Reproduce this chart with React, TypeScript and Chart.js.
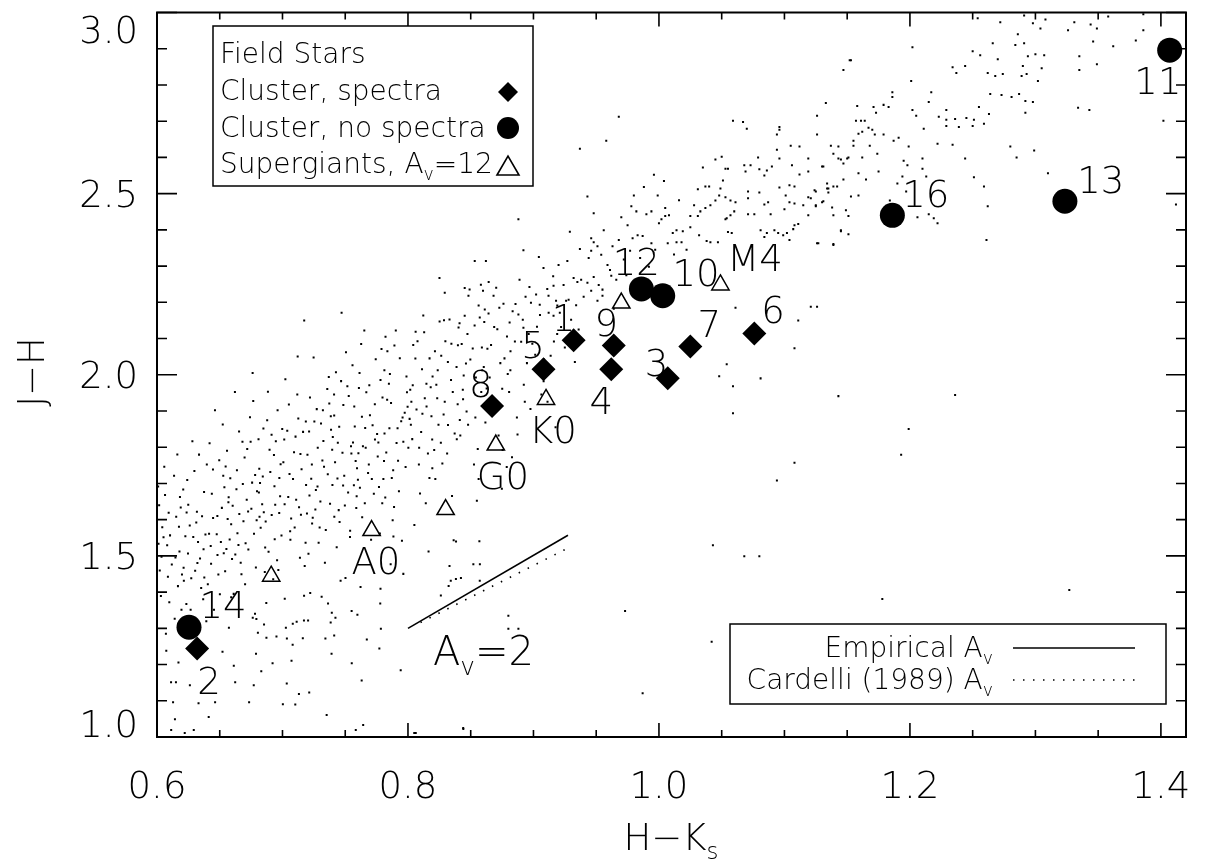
import React, { useEffect, useRef } from 'react';
import { Chart, registerables } from 'chart.js';

Chart.register(...registerables);

// ---------------- data ----------------
const clusterSpectraIds = ['1', '2', '3', '4', '5', '6', '7', '8', '9'];
const clusterSpectraHK = [0.932, 0.632, 1.007, 0.962, 0.908, 1.076, 1.025, 0.867, 0.964];
const clusterSpectraJH = [2.095, 1.244, 1.990, 2.015, 2.015, 2.114, 2.078, 1.914, 2.081];

const clusterNoSpectraIds = ['10', '11', '12', '13', '14', '16'];
const clusterNoSpectraHK = [1.003, 1.407, 0.986, 1.3235, 0.6255, 1.186];
const clusterNoSpectraJH = [2.218, 2.896, 2.237, 2.479, 1.303, 2.440];

const supergiantHK = [0.691, 0.771, 0.830, 0.870, 0.910, 0.970, 1.049];
const supergiantJH = [1.444, 1.570, 1.628, 1.806, 1.932, 2.198, 2.248];

const empiricalAvHK = [0.800, 0.9275];
const empiricalAvJH = [1.300, 1.557];
const cardelliAvHK = [0.810, 0.926];
const cardelliAvJH = [1.316, 1.519];

// text labels placed in data coordinates (text centre)
const pointLabelText = ['14', '2', '8', '5', '1', '9', '4', '3', '7', '6', '12', '10', 'M4', 'K0', 'G0', 'A0', '16', '13', '11'];
const pointLabelHK = [0.6526, 0.6414, 0.858, 0.8996, 0.924, 0.958, 0.954, 0.998, 1.040, 1.091, 0.982, 1.0295, 1.0765, 0.9155, 0.8757, 0.7745, 1.2127, 1.352, 1.3976];
const pointLabelJH = [1.365, 1.156, 1.977, 2.084, 2.158, 2.144, 1.930, 2.034, 2.141, 2.180, 2.314, 2.281, 2.325, 1.848, 1.7215, 1.488, 2.5007, 2.539, 2.8135];
const avLabelHK = 0.8199;
const avLabelJH = 1.2387;

const xMajorTicks = [0.6, 0.8, 1.0, 1.2, 1.4];
const xMajorLabels = ['0.6', '0.8', '1.0', '1.2', '1.4'];
const xMinorTicks = [0.65, 0.7, 0.75, 0.85, 0.9, 0.95, 1.05, 1.1, 1.15, 1.25, 1.3, 1.35];
const yMajorTicks = [1.0, 1.5, 2.0, 2.5, 3.0];
const yMajorLabels = ['1.0', '1.5', '2.0', '2.5', '3.0'];
const yMinorTicks = [1.1, 1.2, 1.3, 1.4, 1.6, 1.7, 1.8, 1.9, 2.1, 2.2, 2.3, 2.4, 2.6, 2.7, 2.8, 2.9];

// field stars [H-Ks, J-H]
const fieldStars: [number, number][] = [
  [0.6012,1.5337],[0.6087,1.4421],[0.6153,1.6078],[0.6031,1.3895],[0.6179,1.5124],[0.6064,1.6683],[0.6118,1.4762],[0.6195,1.3512],[0.6042,1.5791],[0.6136,1.7215],[0.6071,1.2853],[0.6189,1.6337],[0.6022,1.4598],[0.6104,1.5566],[0.6167,1.4165],[0.6058,1.7462],[0.6141,1.3267],[0.6093,1.6192],[0.6009,1.6914],[0.6175,1.5803],[0.6128,1.0961],[0.6112,1.1509],[0.6151,1.1512],[0.6143,1.0487],[0.6113,1.0193],[0.6171,1.2059],[0.6074,1.2378],[0.6036,1.4973],[0.6162,1.7798],[0.6081,1.5294],[0.6199,1.4488],[0.6017,1.6395],
  [0.6221,1.0113],[0.6293,1.0192],[0.6331,1.0934],[0.6262,1.1431],[0.6247,1.5068],[0.6318,1.6217],[0.6273,1.4384],[0.6386,1.5592],[0.6209,1.6835],[0.6352,1.4113],[0.6298,1.7342],[0.6234,1.3671],[0.6375,1.6764],[0.6261,1.5837],[0.6343,1.4925],[0.6212,1.4671],[0.6397,1.7521],[0.6282,1.8163],[0.6327,1.5384],[0.6249,1.6412],[0.6368,1.3802],[0.6304,1.4587],[0.6226,1.5539],[0.6359,1.6092],[0.6286,1.2781],[0.6393,1.3196],[0.6241,1.7097],[0.6313,1.5919],[0.6377,1.4401],[0.6268,1.3512],[0.6335,1.7795],
  [0.6412,1.0551],[0.6463,1.0962],[0.6428,1.5274],[0.6517,1.6325],[0.6489,1.4488],[0.6446,1.7385],[0.6571,1.6619],[0.6532,1.5071],[0.6405,1.4217],[0.6558,1.7903],[0.6591,1.5872],[0.6524,1.8627],[0.6476,1.5594],[0.6543,1.4575],[0.6584,1.7143],[0.6437,1.6712],[0.6501,1.3938],[0.6563,1.6018],[0.6419,1.8108],[0.6598,1.4912],[0.6454,1.3512],[0.6522,1.2351],[0.6573,1.3017],[0.6481,1.6103],[0.6547,1.7468],[0.6462,1.9022],[0.6509,1.5383],[0.6591,1.3855],[0.6431,1.4782],[0.6537,1.6897],[0.6496,1.7641],[0.6579,1.5451],
  [0.6623,1.1509],[0.6612,1.1967],[0.6734,1.0961],[0.6771,1.1431],[0.6763,1.3291],[0.6792,1.3257],[0.6781,1.3402],[0.6789,1.2297],[0.6621,1.9524],[0.6762,2.0051],[0.6641,1.5623],[0.6715,1.6547],[0.6667,1.4812],[0.6782,1.7231],[0.6603,1.6384],[0.6746,1.8152],[0.6689,1.5954],[0.6728,1.5178],[0.6654,1.8436],[0.6797,1.6783],[0.6702,1.4215],[0.6637,1.7362],[0.6773,1.5612],[0.6684,1.6982],[0.6611,1.3951],[0.6752,1.6304],[0.6698,1.7714],[0.6624,1.5037],[0.6741,1.8825],[0.6673,1.4493],[0.6788,1.4681],[0.6656,1.6159],[0.6719,1.7947],[0.6767,1.9273],
  [0.6831,1.1812],[0.6872,1.2743],[0.6804,1.2881],[0.6853,1.3104],[0.6871,1.3702],[0.6952,1.2772],[0.6921,1.2033],[0.6817,1.6081],[0.6936,1.6923],[0.6862,1.5234],[0.6985,1.7528],[0.6809,1.8217],[0.6914,1.6128],[0.6957,1.4876],[0.6843,1.7191],[0.6992,1.5563],[0.6878,1.8742],[0.6926,1.4357],[0.6812,1.6752],[0.6961,1.9018],[0.6897,1.7927],[0.6838,1.6427],[0.6974,1.6185],[0.6889,1.5112],[0.6947,1.8164],[0.6826,1.5778],[0.6903,1.7316],[0.6981,1.6644],[0.6859,1.4553],[0.6938,1.5461],[0.6815,1.7403],[0.6967,1.4608],[0.6884,1.9531],[0.6932,1.7782],[0.6848,1.8514],
  [0.7034,1.1478],[0.7072,1.2106],[0.7003,1.0903],[0.7102,1.0898],[0.7131,1.1184],[0.7035,1.2721],[0.7081,1.2549],[0.7162,1.2723],[0.7171,1.3214],[0.7113,1.3182],[0.7082,1.3127],[0.7027,1.3018],[0.7018,1.3814],[0.7172,1.3897],[0.7121,2.0503],[0.7173,2.1498],[0.7046,1.6622],[0.7152,1.7389],[0.7097,1.5783],[0.7014,1.8215],[0.7188,1.6954],[0.7063,1.5446],[0.7126,1.8791],[0.7007,1.7587],[0.7195,1.6172],[0.7084,1.7124],[0.7139,1.4951],[0.7051,1.9182],[0.7177,1.4722],[0.7109,1.6548],[0.7023,1.9876],[0.7164,1.8423],[0.7092,1.7863],[0.7147,1.6134],[0.7038,1.8457],[0.7184,1.5361],[0.7069,1.6033],[0.7118,1.9458],[0.7199,1.7791],
  [0.7213,1.1228],[0.7352,1.0604],[0.7342,1.2718],[0.7391,1.2297],[0.7384,1.3162],[0.7393,1.3431],[0.7363,1.3682],[0.7312,1.3871],[0.7221,1.3978],[0.7204,1.3214],[0.7266,1.6817],[0.7318,1.7634],[0.7241,1.6052],[0.7387,1.8482],[0.7229,1.7128],[0.7345,1.5714],[0.7273,1.9051],[0.7396,1.7932],[0.7215,1.6664],[0.7331,1.7461],[0.7288,1.5362],[0.7357,1.9608],[0.7207,1.5061],[0.7379,1.6437],[0.7254,1.8712],[0.7326,1.8173],[0.7369,1.9937],[0.7236,1.5893],[0.7307,1.8655],[0.7281,1.7982],[0.7248,2.0474],[0.7398,1.6956],[0.7338,1.4813],[0.7262,1.6279],[0.7373,1.9205],[0.7219,1.9374],[0.7302,1.6503],
  [0.7412,1.2802],[0.7422,1.3291],[0.7551,1.3481],[0.7597,1.3372],[0.7463,1.4314],[0.7502,1.4392],[0.7552,1.2033],[0.7584,1.0193],[0.7471,2.1709],[0.7438,1.7134],[0.7546,1.8023],[0.7497,1.6392],[0.7412,1.8876],[0.7583,1.7617],[0.7455,1.5932],[0.7528,1.9415],[0.7401,1.8281],[0.7569,1.6952],[0.7478,1.7847],[0.7539,1.5693],[0.7426,2.0072],[0.7591,1.6647],[0.7485,1.9167],[0.7413,1.6078],[0.7562,1.8128],[0.7448,1.6263],[0.7517,1.9682],[0.7576,1.8572],[0.7432,1.5236],[0.7506,2.0618],[0.7594,1.7418],[0.7467,1.9824],[0.7538,1.5519],[0.7492,1.7209],[0.7558,2.0263],[0.7419,1.7585],
  [0.7622,1.4139],[0.7631,1.1561],[0.7643,1.0331],[0.7672,1.2692],[0.7772,1.2443],[0.7784,1.2987],[0.7781,1.4093],[0.7779,1.3684],[0.7652,2.1221],[0.7688,1.7524],[0.7754,1.8365],[0.7617,1.6882],[0.7736,1.9186],[0.7663,1.7982],[0.7795,1.6454],[0.7609,1.9631],[0.7718,1.8603],[0.7682,1.7285],[0.7764,1.8131],[0.7635,1.6063],[0.7743,2.0427],[0.7601,1.7104],[0.7797,1.9372],[0.7659,1.8527],[0.7728,1.6713],[0.7614,2.0048],[0.7776,1.5621],[0.7697,1.8881],[0.7627,2.0852],[0.7759,1.7746],[0.7706,1.5447],[0.7668,1.9517],[0.7789,2.0713],[0.7641,1.8026],
  [0.7942,1.1843],[0.7862,1.4772],[0.7884,1.5538],[0.7963,1.4503],[0.7903,2.1221],[0.7827,1.7856],[0.7946,1.8714],[0.7871,1.7152],[0.7992,1.9518],[0.7813,1.8376],[0.7928,1.6782],[0.7856,2.0023],[0.7974,1.8953],[0.7809,1.7618],[0.7917,1.8524],[0.7889,1.6347],[0.7836,2.0652],[0.7981,1.7453],[0.7848,1.9751],[0.7957,1.8821],[0.7804,1.7124],[0.7935,2.0457],[0.7878,1.5983],[0.7997,1.9116],[0.7821,2.1052],[0.7909,1.8117],[0.7865,1.9223],[0.7952,1.5419],[0.7892,2.0805],[0.7819,1.6612],
  [0.8062,1.0113],[0.8061,2.1189],[0.8122,2.1633],[0.8034,1.8223],[0.8148,1.9124],[0.8087,1.7521],[0.8196,1.9953],[0.8013,1.8782],[0.8171,1.7148],[0.8059,2.0451],[0.8134,1.9352],[0.8003,1.7983],[0.8187,1.8852],[0.8096,1.6724],[0.8042,2.0823],[0.8159,1.7826],[0.8112,2.0154],[0.8027,1.9255],[0.8194,1.7421],[0.8076,2.0924],[0.8142,1.6453],[0.8018,1.9583],[0.8105,1.8418],[0.8181,1.9652],[0.8051,1.5852],[0.8164,1.5124],[0.8129,2.1172],[0.8068,1.9041],
  [0.8251,2.2673],[0.8293,2.2261],[0.8252,2.1472],[0.8287,2.1503],[0.8331,2.1522],[0.8441,1.0221],[0.8341,1.4312],[0.8382,1.4363],[0.8324,1.4171],[0.8331,1.4723],[0.8262,1.3903],[0.8364,1.5433],[0.8383,1.5398],[0.8243,1.8621],[0.8357,1.9524],[0.8209,1.7921],[0.8318,2.0352],[0.8396,1.9183],[0.8274,1.7553],[0.8346,2.0854],[0.8226,1.9721],[0.8372,1.8381],[0.8293,1.9253],[0.8218,1.7121],[0.8389,1.8222],[0.8265,2.0523],[0.8312,1.7823],[0.8237,2.0124],[0.8398,2.0815],[0.8351,1.6653],[0.8284,1.8902],
  [0.8422,1.4392],[0.8521,1.4772],[0.8573,1.4771],[0.8572,1.4314],[0.8569,1.5402],[0.8482,2.2183],[0.8491,2.2351],[0.8452,2.2397],[0.8563,2.1911],[0.8572,2.1583],[0.8531,2.1361],[0.8452,2.1632],[0.8403,2.1302],[0.8532,2.3143],[0.8598,2.2322],[0.8581,2.2483],[0.8467,1.8983],[0.8541,1.9921],[0.8417,1.8322],[0.8589,2.0753],[0.8437,1.9583],[0.8556,1.7952],[0.8474,2.1122],[0.8592,2.0121],[0.8413,1.8754],[0.8526,1.7523],[0.8479,1.8622],[0.8428,2.0852],[0.8563,1.7124],[0.8497,2.0421],[0.8549,1.6523],[0.8444,1.9982],
  [0.8612,2.1803],[0.8642,2.1691],[0.8621,2.3143],[0.8643,2.2563],[0.8682,2.2183],[0.8703,2.2402],[0.8761,2.1962],[0.8674,1.9352],[0.8736,2.0321],[0.8617,1.8682],[0.8789,2.1053],[0.8651,1.9921],[0.8722,1.8322],[0.8608,2.1453],[0.8769,2.0452],[0.8695,1.9053],[0.8754,1.7922],[0.8633,2.0721],[0.8712,2.1253],[0.8787,1.7452],[0.8662,2.0823],[0.8748,1.6852],[0.8627,1.9623],[0.8795,2.0021],
  [0.881,2.144],[0.888,2.166],[0.892,2.130],[0.898,2.199],[0.892,2.344],[0.888,2.429],[0.8923,1.9721],[0.8817,2.0652],[0.8976,1.9053],[0.8852,2.0921],[0.8948,2.0321],[0.8834,2.1752],[0.8991,2.0853],[0.8873,1.8352],[0.8962,2.1123],[0.8806,1.9523],[0.8915,2.1521],[0.8868,1.8822],[0.8937,2.2153],[0.8829,1.7723],[0.8889,2.2622],
  [0.905,2.193],[0.908,2.295],[0.911,2.237],[0.916,2.246],[0.912,2.218],[0.918,2.204],[0.919,2.191],[0.916,2.163],[0.920,2.303],[0.9163,2.0921],[0.9028,2.1323],[0.9137,2.0524],[0.9052,2.1652],[0.9189,2.1123],[0.9081,1.9823],[0.9014,2.0553],[0.9112,1.9252],[0.9176,1.8553],[0.9043,2.3252],
  [0.921,2.171],[0.924,2.248],[0.926,2.204],[0.928,2.207],[0.927,2.314],[0.932,2.267],[0.938,2.262],[0.935,2.256],[0.937,2.347],[0.937,2.624],[0.922,2.132],[0.930,2.152],[0.934,2.192],[0.925,2.075],[0.936,2.125],[0.940,2.215],[0.929,2.395],[0.933,2.035],
  [0.943,2.492],[0.948,2.446],[0.946,2.377],[0.948,2.366],[0.951,2.355],[0.946,2.342],[0.944,2.322],[0.954,2.331],[0.959,2.303],[0.943,2.254],[0.948,2.270],[0.952,2.248],[0.955,2.235],[0.946,2.232],[0.955,2.218],[0.951,2.204],[0.956,2.399],[0.958,2.646],
  [0.961,2.289],[0.962,2.273],[0.968,2.372],[0.963,2.355],[0.968,2.712],[0.975,2.413],[0.979,2.377],[0.980,2.495],[0.966,2.262],[0.972,2.318],[0.977,2.342],[0.970,2.435],[0.964,2.182],[0.974,2.275],[0.978,2.465],
  [0.982,2.451],[0.983,2.385],[0.987,2.383],[0.990,2.443],[0.994,2.451],[0.994,2.363],[0.999,2.495],[1.000,2.418],[0.985,2.322],[0.992,2.298],[0.997,2.345],[0.988,2.518],[0.996,2.552],
  [1.002,2.429],[1.005,2.438],[1.008,2.440],[1.005,2.460],[1.011,2.391],[1.014,2.399],[1.019,2.396],[1.007,2.363],[1.014,2.366],[1.018,2.366],[1.012,2.332],[1.016,2.482],[1.004,2.535],
  [1.025,2.407],[1.025,2.438],[1.031,2.438],[1.028,2.468],[1.033,2.451],[1.037,2.460],[1.031,2.512],[1.037,2.520],[1.040,2.520],[1.032,2.385],[1.038,2.369],[1.022,2.345],[1.035,2.572],
  [1.041,2.366],[1.047,2.366],[1.041,2.468],[1.045,2.481],[1.048,2.495],[1.049,2.514],[1.051,2.536],[1.053,2.569],[1.055,2.569],[1.045,2.594],[1.050,2.602],[1.053,2.490],[1.057,2.481],[1.053,2.429],[1.054,2.432],[1.057,2.440],[1.055,2.394],[1.058,2.391],[1.059,2.701],[1.060,2.451],[1.048,1.996],[1.054,2.029],[1.059,1.968],[1.059,1.894],[1.043,1.529],
  [1.061,2.476],[1.067,2.698],[1.070,2.679],[1.068,2.578],[1.069,2.561],[1.073,2.578],[1.079,2.600],[1.080,2.567],[1.071,2.506],[1.071,2.487],[1.080,2.503],[1.071,2.443],[1.076,2.443],[1.061,2.185],[1.068,1.499],[1.080,1.499],
  [1.084,2.550],[1.086,2.564],[1.090,2.575],[1.096,2.597],[1.094,2.621],[1.094,2.663],[1.096,2.676],[1.096,2.684],[1.084,2.470],[1.087,2.476],[1.089,2.443],[1.081,2.399],[1.086,2.391],[1.084,2.380],[1.092,2.399],[1.095,2.391],[1.099,2.385],[1.096,2.517],[1.081,1.990],[1.094,1.708],
  [1.101,2.495],[1.104,2.523],[1.108,2.520],[1.104,2.476],[1.108,2.473],[1.115,2.468],[1.119,2.490],[1.100,2.457],[1.111,2.416],[1.108,2.413],[1.107,2.402],[1.102,2.391],[1.104,2.372],[1.105,2.632],[1.112,2.630],[1.106,2.578],[1.112,2.553],[1.119,2.561],[1.119,2.440],[1.119,2.597],[1.111,2.150],[1.108,2.073],[1.108,1.757],
  [1.124,2.509],[1.125,2.465],[1.134,2.528],[1.135,2.514],[1.135,2.503],[1.130,2.476],[1.138,2.462],[1.139,2.440],[1.126,2.363],[1.139,2.358],[1.130,2.575],[1.131,2.575],[1.126,2.715],[1.133,2.750],[1.137,2.632],[1.139,2.610],[1.125,2.506],[1.121,2.487],[1.125,2.468],[1.131,2.479],[1.139,2.520],[1.134,2.514],[1.127,2.363],[1.139,2.361],[1.126,2.663],[1.121,2.188],[1.126,2.188],
  [1.143,2.630],[1.145,2.594],[1.151,2.600],[1.142,2.520],[1.145,2.396],[1.151,2.388],[1.147,2.841],[1.152,2.868],[1.143,2.597],[1.147,2.583],[1.150,2.597],[1.147,2.539],[1.149,2.454],[1.153,2.492],[1.159,2.495],[1.151,2.438],[1.145,2.399],[1.155,2.646],[1.155,2.632],[1.157,2.701],[1.159,2.665],[1.158,2.742],[1.159,2.556],[1.153,2.868],[1.143,1.941],
  [1.161,2.701],[1.164,2.701],[1.167,2.682],[1.170,2.676],[1.162,2.671],[1.172,2.663],[1.179,2.663],[1.168,2.632],[1.174,2.610],[1.162,2.600],[1.165,2.539],[1.175,2.561],[1.171,2.739],[1.179,2.745],[1.173,2.723],[1.178,1.381],
  [1.183,2.739],[1.186,2.780],[1.186,2.767],[1.187,2.646],[1.191,2.654],[1.199,2.630],[1.194,2.547],[1.198,2.578],[1.195,2.591],[1.190,2.528],[1.197,2.506],[1.184,2.481],[1.199,1.850],[1.193,1.779],
  [1.202,2.904],[1.201,2.811],[1.202,2.731],[1.205,2.715],[1.211,2.679],[1.210,2.597],[1.210,2.569],[1.213,2.547],[1.206,2.435],[1.215,2.443],[1.219,2.432],[1.217,2.780],[1.215,2.753],
  [1.222,2.418],[1.223,2.712],[1.229,2.731],[1.229,2.704],[1.236,2.706],[1.229,2.687],[1.239,2.684],[1.222,2.638],[1.234,2.635],[1.234,2.849],[1.237,2.833],[1.236,1.944],
  [1.244,2.852],[1.245,2.709],[1.251,2.704],[1.250,2.687],[1.259,2.693],[1.255,2.739],[1.244,2.597],[1.251,2.545],[1.259,2.520],[1.250,2.893],[1.256,2.882],[1.254,2.984],
  [1.262,2.465],[1.261,2.372],[1.263,2.720],[1.264,2.775],[1.273,2.772],[1.281,2.767],[1.287,2.775],[1.292,2.756],[1.298,2.753],[1.292,2.723],[1.262,2.833],[1.268,2.825],[1.274,2.830],[1.270,2.871],[1.294,2.879],[1.300,2.885],[1.290,2.852],[1.289,2.825],[1.293,2.830],[1.266,2.915],[1.284,2.910],[1.291,2.915],[1.286,2.940],[1.272,2.973],[1.291,2.992],[1.298,2.970],[1.280,2.630],[1.285,2.600],[1.299,2.619],
  [1.304,2.956],[1.308,2.981],[1.326,2.951],[1.331,2.973],[1.344,2.967],[1.349,2.956],[1.358,2.989],[1.386,2.995],[1.386,2.951],[1.380,2.923],[1.362,2.907],[1.346,2.920],[1.307,2.882],[1.305,2.846],[1.302,2.811],[1.335,2.879],[1.335,2.841],[1.349,2.857],[1.334,2.737],[1.343,2.731],[1.402,2.701],[1.412,2.470],[1.310,2.556],[1.327,1.406],
  [0.973,1.348],[1.042,1.263],[0.987,1.121],[0.880,1.335],[0.880,1.299],[0.888,1.299],[0.844,1.025],[0.805,1.011],
  [0.6052,1.5512],[0.6147,1.4953],[0.6098,1.3721],[0.6183,1.6624],[0.6236,1.6197],[0.6322,1.4802],[0.6289,1.5523],[0.6371,1.5181],[0.6214,1.4312],[0.6447,1.6043],[0.6528,1.7212],[0.6482,1.5023],[0.6569,1.6482],[0.6415,1.5611],[0.6553,1.5193],[0.6633,1.6842],[0.6706,1.5351],[0.6758,1.7022],[0.6681,1.8153],[0.6794,1.5981],[0.6649,1.5302],[0.6726,1.6222],[0.6866,1.5952],[0.6913,1.8341],[0.6821,1.7012],[0.6975,1.7153],[0.6851,1.6203],[0.6942,1.6412],[0.6998,1.8502],[0.7056,1.7262],[0.7143,1.7812],[0.7017,1.6423],[0.7186,1.8711],[0.7104,1.8292],[0.7061,1.5682],[0.7132,1.6341],[0.7234,1.7523],[0.7322,1.9023],[0.7279,1.6912],[0.7361,1.7252],[0.7212,1.8432],[0.7296,1.5781],[0.7385,1.8852],[0.7441,1.8123],[0.7523,1.6752],[0.7572,1.9121],[0.7483,1.6941],[0.7411,1.9452],[0.7549,1.7823],[0.7452,1.8562],[0.7588,1.6322],[0.7633,1.8841],[0.7712,1.7122],[0.7781,1.9852],[0.7656,1.6452],[0.7737,1.8212],[0.7605,1.7834],[0.7692,1.9712],[0.7769,1.6902],[0.7852,1.8523],[0.7921,1.7623],[0.7988,1.9952],[0.7834,1.9312],[0.7963,1.8153],[0.7882,1.7362],[0.7812,2.0121],[0.8023,1.8623],[0.8147,1.9752],[0.8089,1.7983],[0.8172,2.0452],[0.8038,1.9712],[0.8115,1.8923],[0.8193,1.8212],[0.8233,1.9352],[0.8319,1.8612],[0.8387,2.0212],[0.8262,1.8123],[0.8343,1.9853],[0.8215,2.0652],[0.8298,2.0923],[0.8439,1.9321],[0.8516,2.0723],[0.8584,1.9521],[0.8462,2.0312],[0.8537,1.8821],[0.8411,2.1421],[0.8604,2.0213],[0.8687,2.1321],[0.8751,1.9612],[0.8659,1.8923],[0.8728,2.1852],[0.8816,2.0123],[0.8902,2.0912],[0.8857,2.1952],[0.8968,2.2421],[0.8931,1.9252],[0.9021,2.2212],[0.9084,2.0421],[0.9157,2.2721],[0.9121,2.1712],[0.9063,1.9452],
];

// ---------------- drawing helpers ----------------
const FAMILY = "'DejaVu Sans', 'Liberation Sans', sans-serif";
const WEIGHT = 200;
const font = (size: number) => `${WEIGHT} ${size}px ${FAMILY}`;

type Seg = { t: string; sub?: boolean };

function drawRich(ctx: CanvasRenderingContext2D, segs: Seg[], x: number, baseline: number, size: number, align: 'left' | 'right' | 'center') {
  const subSize = size * 0.62;
  let w = 0;
  const widths: number[] = [];
  for (const s of segs) {
    ctx.font = font(s.sub ? subSize : size);
    const m = ctx.measureText(s.t).width;
    widths.push(m);
    w += m;
  }
  let cx = align === 'left' ? x : align === 'right' ? x - w : x - w / 2;
  ctx.textAlign = 'left';
  ctx.textBaseline = 'alphabetic';
  segs.forEach((s, i) => {
    ctx.font = font(s.sub ? subSize : size);
    ctx.fillText(s.t, cx, s.sub ? baseline + size * 0.24 : baseline);
    cx += widths[i];
  });
}

function diamond(ctx: CanvasRenderingContext2D, x: number, y: number, r: number) {
  ctx.beginPath();
  ctx.moveTo(x - r, y); ctx.lineTo(x, y - r); ctx.lineTo(x + r, y); ctx.lineTo(x, y + r);
  ctx.closePath(); ctx.fill();
}

const decorPlugin = {
  id: 'decor',
  afterDraw(chart: any) {
    const ctx: CanvasRenderingContext2D = chart.ctx;
    const xs = chart.scales.x;
    const ys = chart.scales.y;
    const { left, right, top, bottom } = chart.chartArea;
    ctx.save();
    ctx.fillStyle = '#000';
    ctx.strokeStyle = '#000';

    // ticks (inside, all four sides)
    ctx.lineWidth = 1.6;
    const xTick = (v: number, len: number) => {
      const p = xs.getPixelForValue(v);
      ctx.beginPath();
      ctx.moveTo(p, bottom); ctx.lineTo(p, bottom - len);
      ctx.moveTo(p, top); ctx.lineTo(p, top + len);
      ctx.stroke();
    };
    const yTick = (v: number, len: number) => {
      const p = ys.getPixelForValue(v);
      ctx.beginPath();
      ctx.moveTo(left, p); ctx.lineTo(left + len, p);
      ctx.moveTo(right, p); ctx.lineTo(right - len, p);
      ctx.stroke();
    };
    xMajorTicks.forEach(v => xTick(v, 14));
    xMinorTicks.forEach(v => xTick(v, 7));
    yMajorTicks.forEach(v => yTick(v, 20));
    yMinorTicks.forEach(v => yTick(v, 10));

    // frame
    ctx.lineWidth = 2;
    ctx.strokeRect(left, top, right - left, bottom - top);

    const TS = 37;
    const cap = TS * 0.73;
    // x tick labels
    xMajorTicks.forEach((v, i) => {
      const p = xs.getPixelForValue(v);
      drawRich(ctx, [{ t: xMajorLabels[i] }], p, bottom + 61, TS, 'center');
    });
    // y tick labels
    yMajorTicks.forEach((v, i) => {
      let p = ys.getPixelForValue(v);
      p = Math.max(top + 17, Math.min(bottom - 14, p));
      drawRich(ctx, [{ t: yMajorLabels[i] }], left - 19, p + cap / 2, TS, 'right');
    });

    // axis titles
    drawRich(ctx, [{ t: 'H\u2212K' }, { t: 's', sub: true }], 671, 850, TS, 'center');
    ctx.save();
    ctx.translate(30 + cap / 2, 372);
    ctx.rotate(-Math.PI / 2);
    drawRich(ctx, [{ t: 'J\u2212H' }], 0, 0, TS, 'center');
    ctx.restore();

    // point labels
    pointLabelText.forEach((t, i) => {
      const px = xs.getPixelForValue(pointLabelHK[i]);
      const py = ys.getPixelForValue(pointLabelJH[i]);
      drawRich(ctx, [{ t }], px, py + cap / 2, TS, 'center');
    });
    // A_v = 2 label
    {
      const px = xs.getPixelForValue(avLabelHK);
      const py = ys.getPixelForValue(avLabelJH);
      const s = 40;
      drawRich(ctx, [{ t: 'A' }, { t: 'v', sub: true }, { t: '=2' }], px, py + s * 0.73 / 2, s, 'left');
    }

    // legend 1 (top-left)
    const LS = 28;
    ctx.fillStyle = '#fff';
    ctx.fillRect(213, 26, 320, 160);
    ctx.fillStyle = '#000';
    ctx.lineWidth = 1.5;
    ctx.strokeRect(213, 26, 320, 160);
    drawRich(ctx, [{ t: 'Field Stars' }], 220, 63, LS, 'left');
    drawRich(ctx, [{ t: 'Cluster, spectra' }], 220, 100, LS, 'left');
    drawRich(ctx, [{ t: 'Cluster, no spectra' }], 220, 137, LS, 'left');
    drawRich(ctx, [{ t: 'Supergiants, A' }, { t: 'v', sub: true }, { t: '=12' }], 220, 173, LS, 'left');
    diamond(ctx, 508, 92, 10);
    ctx.beginPath(); ctx.arc(508, 128, 11, 0, Math.PI * 2); ctx.fill();
    ctx.lineWidth = 1.6;
    ctx.beginPath();
    ctx.moveTo(497, 175); ctx.lineTo(508, 156); ctx.lineTo(519, 175); ctx.closePath();
    ctx.stroke();

    // legend 2 (bottom-right)
    ctx.fillStyle = '#fff';
    ctx.fillRect(730, 624, 436, 80);
    ctx.fillStyle = '#000';
    ctx.lineWidth = 1.5;
    ctx.strokeRect(730, 624, 436, 80);
    drawRich(ctx, [{ t: 'Empirical A' }, { t: 'v', sub: true }], 993, 657, LS, 'right');
    drawRich(ctx, [{ t: 'Cardelli (1989) A' }, { t: 'v', sub: true }], 993, 689, LS, 'right');
    ctx.lineWidth = 1.5;
    ctx.beginPath(); ctx.moveTo(1013, 648); ctx.lineTo(1135, 648); ctx.stroke();
    ctx.setLineDash([1.5, 8.5]);
    ctx.beginPath(); ctx.moveTo(1013, 680); ctx.lineTo(1135, 680); ctx.stroke();
    ctx.setLineDash([]);

    ctx.restore();
  },
};

export default function App() {
  const ref = useRef<HTMLCanvasElement>(null);
  useEffect(() => {
    document.body.style.margin = '0';
    const zip = (xs: number[], ys: number[]) => xs.map((x, i) => ({ x, y: ys[i] }));
    const chart = new Chart(ref.current as HTMLCanvasElement, {
      type: 'scatter',
      data: {
        datasets: [
          {
            label: 'Cluster, spectra',
            data: zip(clusterSpectraHK, clusterSpectraJH),
            pointStyle: 'rectRot',
            pointRadius: 12,
            backgroundColor: '#000',
            borderColor: '#000',
            borderWidth: 0,
            order: 1,
          },
          {
            label: 'Cluster, no spectra',
            data: zip(clusterNoSpectraHK, clusterNoSpectraJH),
            pointStyle: 'circle',
            pointRadius: 12.5,
            backgroundColor: '#000',
            borderColor: '#000',
            borderWidth: 0,
            order: 2,
          },
          {
            label: 'Supergiants, Av=12',
            data: zip(supergiantHK, supergiantJH),
            pointStyle: 'triangle',
            pointRadius: 10,
            backgroundColor: 'rgba(0,0,0,0)',
            borderColor: '#000',
            borderWidth: 1.5,
            order: 3,
          },
          {
            label: 'Empirical Av',
            data: zip(empiricalAvHK, empiricalAvJH),
            showLine: true,
            pointRadius: 0,
            borderColor: '#000',
            borderWidth: 1.6,
            order: 4,
          },
          {
            label: 'Cardelli (1989) Av',
            data: zip(cardelliAvHK, cardelliAvJH),
            showLine: true,
            pointRadius: 0,
            borderColor: '#000',
            borderWidth: 1.6,
            borderDash: [1.5, 8.5],
            order: 5,
          },
          {
            label: 'Field Stars',
            data: fieldStars.map(([x, y]) => ({ x, y })),
            pointStyle: 'rect',
            pointRadius: 1.42,
            backgroundColor: '#000',
            borderColor: '#000',
            borderWidth: 0,
            order: 6,
          },
        ],
      },
      options: {
        responsive: false,
        animation: false,
        events: [],
        layout: { padding: { left: 157, top: 8, right: 26, bottom: 128 } },
        scales: {
          x: { type: 'linear', min: 0.6, max: 1.42, display: false },
          y: { type: 'linear', min: 1.0, max: 3.0, display: false },
        },
        plugins: { legend: { display: false }, tooltip: { enabled: false } },
      } as any,
      plugins: [decorPlugin],
    });
    return () => chart.destroy();
  }, []);
  return (
    <div style={{ width: 1212, height: 865 }}>
      <canvas ref={ref} width={1212} height={865} style={{ display: 'block' }} />
    </div>
  );
}
